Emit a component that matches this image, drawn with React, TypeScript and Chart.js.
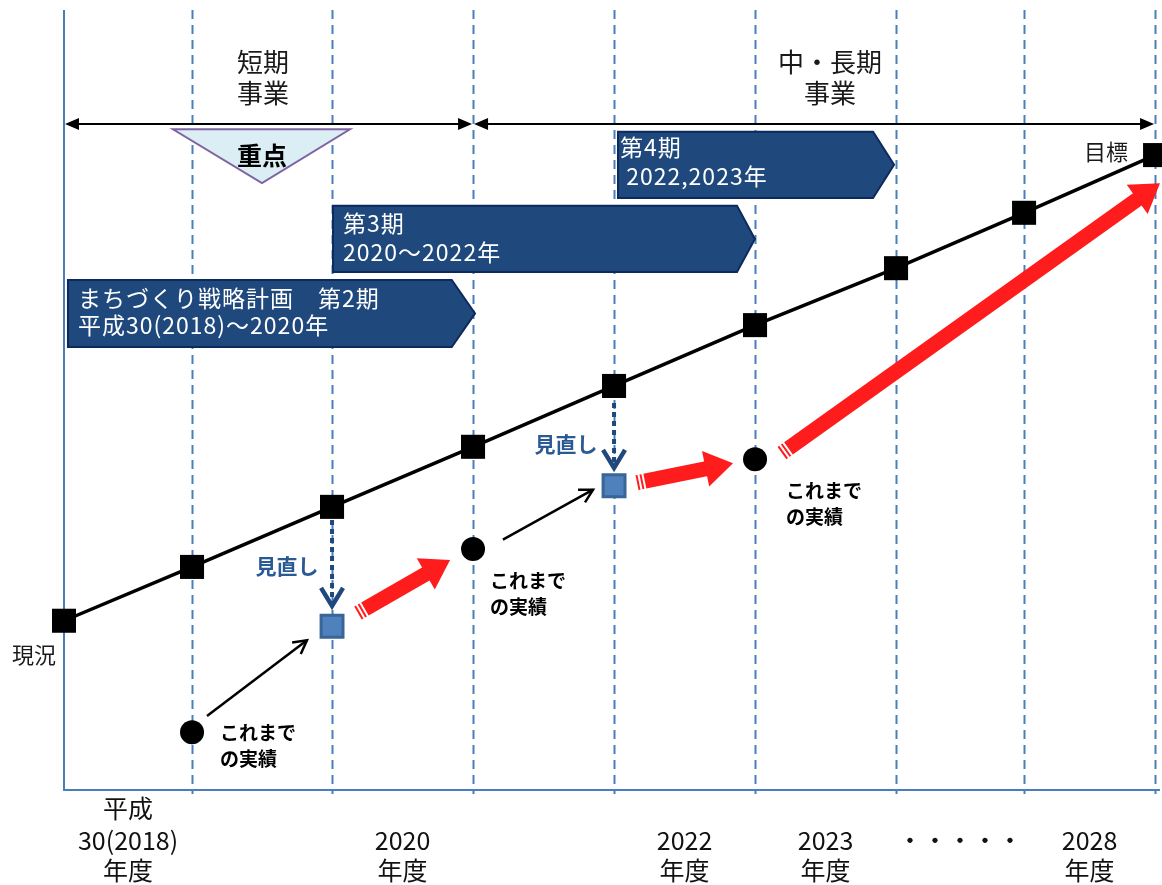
import React, { useEffect, useRef } from "react";
import { Chart, registerables } from "chart.js";
Chart.register(...registerables);

const FONT = '"Noto Sans CJK JP", "Noto Sans", sans-serif';

// x positions (interval boundaries, in "year slot" units) and plan values
const yearBounds = [0, 0.908, 1.901, 2.901, 3.901, 4.901, 5.901, 6.809, 7.738];
const planValues = [21.7, 28.6, 36.3, 44.0, 51.8, 59.6, 66.9, 74.0, 81.4];

// actual results (black circles)
const actualX = [0.908, 2.901, 4.901];
const actualValues = [7.4, 30.9, 42.4];

// revised targets (blue squares)
const revisedX = [1.901, 3.901];
const revisedValues = [21.0, 39.0];

// tick labels for each interval between boundaries
const tickLabels: string[][] = [
  ["平成", "30(2018)", "年度"],
  [],
  ["2020", "年度"],
  [],
  ["2022", "年度"],
  ["2023", "年度"],
  ["・・・・・"],
  ["2028", "年度"],
];

// plan banners
const bannerLines = [
  ["まちづくり戦略計画　第2期", "平成30(2018)～2020年"],
  ["第3期", "2020～2022年"],
  ["第4期", " 2022,2023年"],
];
const bannerStart = [0.028, 1.908, 3.929];
const bannerBodyEnd = [2.75, 4.773, 5.738];
const bannerTip = [2.915, 4.9, 5.887];
const bannerTop = [65.4, 74.9, 84.4];
const bannerBottom = [56.8, 66.4, 75.9];

// period spans (double arrows)
const spanFrom = [0, 2.901];
const spanTo = [2.901, 7.738];
const spanLevel = 85.4;

// "actual" -> "revised" thin arrows
const thinArrowFrom = [[1.014, 9.5], [3.113, 32.1]];
const thinArrowTo = [[1.723, 19.2], [3.752, 38.5]];

// review dotted arrows
const reviewX = [1.901, 3.901];
const reviewFrom = [34.6, 49.6];
const reviewTo = [23.6, 41.3];

// red progress arrows
const redFrom = [[2.085, 22.7], [4.064, 39.4], [5.092, 43.2]];
const redTo = [[2.738, 29.5], [4.745, 41.9], [7.773, 77.8]];

export default function App() {
  const ref = useRef<HTMLCanvasElement>(null);
  useEffect(() => {
    document.body.style.margin = "0";
    const plugin = {
      id: "diagram",
      beforeDatasetsDraw(chart: any) {
        const ctx: any = chart.ctx;
        const xs = chart.scales.x;
        const ys = chart.scales.y;
        const X = (v: number) => xs.getPixelForValue(v);
        const Y = (v: number) => ys.getPixelForValue(v);
        const area = chart.chartArea;
        ctx.save();
        // dashed verticals
        ctx.strokeStyle = "#4a7ebb";
        ctx.lineWidth = 2;
        ctx.setLineDash([9, 6]);
        for (let i = 1; i < yearBounds.length; i++) {
          const px = Math.round(X(yearBounds[i])) + 0.5;
          ctx.beginPath();
          ctx.moveTo(px, area.top);
          ctx.lineTo(px, area.bottom + 4);
          ctx.stroke();
        }
        ctx.setLineDash([]);
        // axes
        ctx.beginPath();
        ctx.moveTo(X(0), area.top);
        ctx.lineTo(X(0), area.bottom);
        ctx.lineTo(area.right, area.bottom);
        ctx.stroke();

        // tick labels
        ctx.fillStyle = "#111";
        ctx.font = `25px ${FONT}`;
        ctx.textAlign = "center";
        ctx.textBaseline = "middle";
        const lineYs = [808, 840, 870];
        tickLabels.forEach((lines, i) => {
          const cx = X((yearBounds[i] + yearBounds[i + 1]) / 2);
          const offset = 3 - lines.length;
          lines.forEach((t, j) => {
            let yy = area.bottom + (lineYs[offset + j] - 790);
            if (lines.length === 1) yy = area.bottom + 50;
            ctx.fillText(t, cx, yy);
          });
        });

        // top labels
        ctx.font = `26px ${FONT}`;
        ctx.fillStyle = "#1a1a1a";
        ctx.fillText("短期", X(1.411), Y(93.3));
        ctx.fillText("事業", X(1.411), Y(89.4));
        ctx.fillText("中・長期", X(5.433), Y(93.3));
        ctx.fillText("事業", X(5.433), Y(89.4));

        // span double arrows
        ctx.strokeStyle = "#000";
        ctx.fillStyle = "#000";
        ctx.lineWidth = 2;
        for (let i = 0; i < spanFrom.length; i++) {
          const a = X(spanFrom[i]) + 1;
          const b = X(spanTo[i]) - 1;
          const yy = Y(spanLevel);
          ctx.beginPath();
          ctx.moveTo(a + 10, yy);
          ctx.lineTo(b - 10, yy);
          ctx.stroke();
          ctx.beginPath();
          ctx.moveTo(a, yy);
          ctx.lineTo(a + 14, yy - 6);
          ctx.lineTo(a + 14, yy + 6);
          ctx.closePath();
          ctx.fill();
          ctx.beginPath();
          ctx.moveTo(b, yy);
          ctx.lineTo(b - 14, yy - 6);
          ctx.lineTo(b - 14, yy + 6);
          ctx.closePath();
          ctx.fill();
        }

        // priority triangle
        ctx.beginPath();
        ctx.moveTo(X(0.773), Y(84.7));
        ctx.lineTo(X(2.028), Y(84.7));
        ctx.lineTo(X(1.404), Y(77.8));
        ctx.closePath();
        ctx.fillStyle = "#dbeef4";
        ctx.fill();
        ctx.strokeStyle = "#8064a2";
        ctx.lineWidth = 2;
        ctx.stroke();
        ctx.fillStyle = "#000";
        ctx.font = `bold 25px ${FONT}`;
        ctx.fillText("重点", X(1.404), Y(81.4));

        // banners
        const pads = [10, 10, 2];
        const l1 = [18, 17, 16];
        const l2 = [45, 46, 45];
        for (let i = 0; i < bannerLines.length; i++) {
          const x0 = X(bannerStart[i]);
          const xr = X(bannerBodyEnd[i]);
          const xt = X(bannerTip[i]);
          const t = Y(bannerTop[i]);
          const b = Y(bannerBottom[i]);
          ctx.beginPath();
          ctx.moveTo(x0, t);
          ctx.lineTo(xr, t);
          ctx.lineTo(xt, (t + b) / 2);
          ctx.lineTo(xr, b);
          ctx.lineTo(x0, b);
          ctx.closePath();
          ctx.fillStyle = "#1f497d";
          ctx.fill();
          ctx.strokeStyle = "#0d2a5e";
          ctx.lineWidth = 2;
          ctx.stroke();
          ctx.fillStyle = "#ffffff";
          ctx.font = `23px ${FONT}`;
          ctx.letterSpacing = "1px";
          ctx.textAlign = "left";
          ctx.fillText(bannerLines[i][0], x0 + pads[i], t + l1[i]);
          ctx.fillText(bannerLines[i][1], x0 + pads[i], t + l2[i]);
          ctx.letterSpacing = "0px";
        }

        // side labels
        ctx.fillStyle = "#1a1a1a";
        ctx.font = `22px ${FONT}`;
        ctx.textAlign = "center";
        ctx.fillText("現況", X(-0.213), Y(17.3));
        ctx.textAlign = "right";
        ctx.fillText("目標", X(7.546), Y(81.8));

        // red fat arrows
        for (let i = 0; i < redFrom.length; i++) {
          const x1 = X(redFrom[i][0]);
          const y1 = Y(redFrom[i][1]);
          const x2 = X(redTo[i][0]);
          const y2 = Y(redTo[i][1]);
          const L = Math.hypot(x2 - x1, y2 - y1);
          const w = 15, hl = 28, hw = 36;
          ctx.save();
          ctx.translate(x1, y1);
          ctx.rotate(Math.atan2(y2 - y1, x2 - x1));
          ctx.fillStyle = "#fe1c1c";
          ctx.fillRect(0, -w / 2, 2, w);
          ctx.fillRect(4, -w / 2, 2, w);
          ctx.fillRect(8, -w / 2, L - hl - 8 + 1, w);
          ctx.beginPath();
          ctx.moveTo(L - hl, -hw / 2);
          ctx.lineTo(L, 0);
          ctx.lineTo(L - hl, hw / 2);
          ctx.closePath();
          ctx.fill();
          ctx.restore();
        }

        // labels: actuals
        ctx.fillStyle = "#000";
        ctx.font = `bold 19px ${FONT}`;
        ctx.textAlign = "left";
        const actualLabelX = [1.106, 3.021, 5.121];
        const actualLabelY = [7.3, 26.8, 38.3];
        for (let i = 0; i < actualLabelX.length; i++) {
          const lx = X(actualLabelX[i]);
          const ly = Y(actualLabelY[i]);
          ctx.fillText("これまで", lx, ly);
          ctx.fillText("の実績", lx, ly + 26);
        }
        // review labels
        ctx.fillStyle = "#2a5a94";
        ctx.font = `bold 21px ${FONT}`;
        ctx.textAlign = "center";
        ctx.fillText("見直し", X(1.582), Y(28.7));
        ctx.fillText("見直し", X(3.56), Y(44.4));
        ctx.restore();
      },
      afterDatasetsDraw(chart: any) {
        const ctx: CanvasRenderingContext2D = chart.ctx;
        const X = (v: number) => chart.scales.x.getPixelForValue(v);
        const Y = (v: number) => chart.scales.y.getPixelForValue(v);
        ctx.save();
        // thin black arrows
        ctx.strokeStyle = "#000";
        ctx.lineWidth = 2.5;
        for (let i = 0; i < thinArrowFrom.length; i++) {
          const x1 = X(thinArrowFrom[i][0]);
          const y1 = Y(thinArrowFrom[i][1]);
          const x2 = X(thinArrowTo[i][0]);
          const y2 = Y(thinArrowTo[i][1]);
          const ang = Math.atan2(y2 - y1, x2 - x1);
          ctx.beginPath();
          ctx.moveTo(x1, y1);
          ctx.lineTo(x2, y2);
          ctx.stroke();
          ctx.beginPath();
          ctx.moveTo(x2 - 15 * Math.cos(ang - 0.5), y2 - 15 * Math.sin(ang - 0.5));
          ctx.lineTo(x2, y2);
          ctx.lineTo(x2 - 15 * Math.cos(ang + 0.5), y2 - 15 * Math.sin(ang + 0.5));
          ctx.stroke();
        }
        // dotted review arrows
        ctx.strokeStyle = "#1f497d";
        ctx.lineWidth = 4;
        for (let i = 0; i < reviewX.length; i++) {
          const px = X(reviewX[i]);
          const y1 = Y(reviewFrom[i]);
          const y2 = Y(reviewTo[i]);
          ctx.setLineDash([5, 4]);
          ctx.beginPath();
          ctx.moveTo(px, y1);
          ctx.lineTo(px, y2 - 4);
          ctx.stroke();
          ctx.setLineDash([]);
          ctx.lineWidth = 4.5;
          ctx.beginPath();
          ctx.moveTo(px - 11, y2 - 18);
          ctx.lineTo(px, y2);
          ctx.lineTo(px + 11, y2 - 18);
          ctx.stroke();
          ctx.lineWidth = 4;
        }
        ctx.restore();
      },
    };

    const chart = new Chart(ref.current as HTMLCanvasElement, {
      type: "line",
      data: {
        datasets: [
          {
            label: "plan",
            data: yearBounds.map((x, i) => ({ x, y: planValues[i] })),
            borderColor: "#000",
            borderWidth: 3.5,
            pointStyle: "rect",
            pointRadius: 17,
            pointBackgroundColor: "#000",
            pointBorderWidth: 0,
            clip: false,
          } as any,
          {
            label: "revised",
            data: revisedX.map((x, i) => ({ x, y: revisedValues[i] })),
            showLine: false,
            pointStyle: "rect",
            pointRadius: 15.5,
            pointBackgroundColor: "#4f81bd",
            pointBorderColor: "#3a6597",
            pointBorderWidth: 3,
            clip: false,
          } as any,
          {
            label: "actual",
            data: actualX.map((x, i) => ({ x, y: actualValues[i] })),
            showLine: false,
            pointStyle: "circle",
            pointRadius: 12,
            pointBackgroundColor: "#000",
            pointBorderWidth: 0,
            clip: false,
          } as any,
        ],
      },
      options: {
        responsive: false,
        animation: false,
        events: [],
        layout: { autoPadding: false, padding: { left: 64, right: 2, top: 10, bottom: 95 } },
        plugins: { legend: { display: false }, tooltip: { enabled: false } },
        scales: {
          x: { type: "linear", min: 0, max: 7.773, display: false },
          y: { type: "linear", min: 0, max: 100, display: false },
        },
      },
      plugins: [plugin],
    });
    return () => chart.destroy();
  }, []);
  return (
    <div style={{ position: "absolute", left: 0, top: 0, width: 1162, height: 885, background: "#fff" }}>
      <canvas ref={ref} width={1162} height={885} style={{ width: 1162, height: 885, display: "block" }} />
    </div>
  );
}
